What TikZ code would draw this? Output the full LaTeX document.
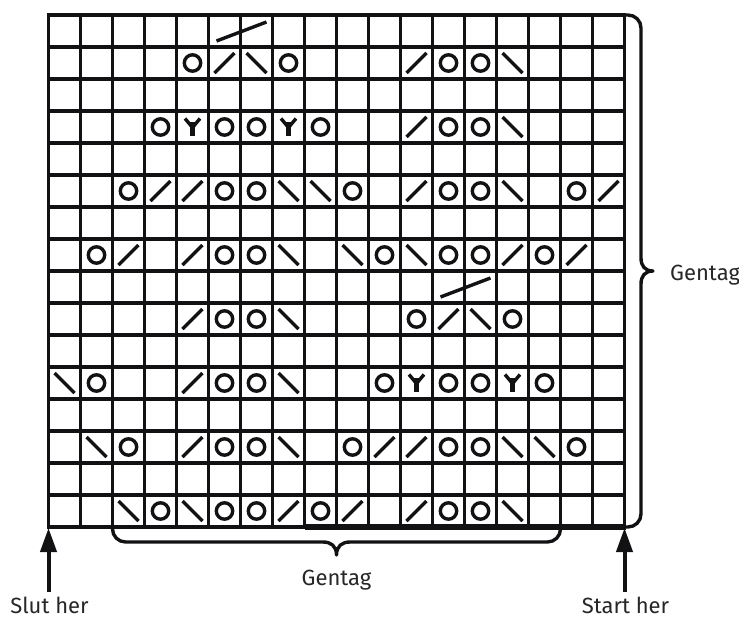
\documentclass[tikz,border=0pt]{standalone}
\usepackage{fontspec}
\setmainfont{Fira Sans}
\usetikzlibrary{arrows.meta}
\definecolor{ink}{RGB}{18,18,20}
\definecolor{txt}{RGB}{40,38,40}
\tikzset{
  gridline/.style={line width=3.2pt, draw=ink},
  sym/.style={line width=3.4pt, draw=ink},
  bracestyle/.style={line width=3.4pt, draw=ink, line join=round},
  arrowstyle/.style={line width=4pt, draw=ink, -{Triangle[length=24pt,width=16pt]}},
  lbl/.style={inner sep=0pt, text=txt, font=\fontsize{22}{26}\selectfont},
  yo/.pic={\draw[sym] (0,0) circle (8.2);},
  rslant/.pic={\draw[sym] (-10,10) -- (10,-10);},
  lslant/.pic={\draw[sym] (-10,-10) -- (10,10);},
  psi/.pic={\draw[sym, line join=round] (-7.5,-8.5) -- (0,0.5) -- (7.5,-8.5);
            \draw[line width=4.4pt, draw=ink] (0,-5) -- (0,9);}
}
\begin{document}
\begin{tikzpicture}[x=1pt,y=-1pt]
\useasboundingbox (0,0) rectangle (739,619);
\fill[white] (0,0) rectangle (739,619);
% grid lines
\foreach \c in {1,...,17} \draw[gridline] ({48.5+32*\c},15) -- ({48.5+32*\c},527);
\foreach \r in {1,...,15} \draw[gridline] (48.5,{15+32*\r}) -- (624.5,{15+32*\r});
\draw[gridline] (48.5,15) rectangle (624.5,527);
\draw[line width=6pt, draw=ink] (304.5,526.5) -- (625.5,526.5);
% symbols
\foreach \c/\r in {5/2,8/2,13/2,14/2, 4/4,6/4,7/4,9/4,13/4,14/4,
  3/6,6/6,7/6,10/6,13/6,14/6,17/6, 2/8,6/8,7/8,11/8,13/8,14/8,16/8,
  6/10,7/10,12/10,15/10, 2/12,6/12,7/12,11/12,13/12,14/12,16/12,
  3/14,6/14,7/14,10/14,13/14,14/14,17/14, 4/16,6/16,7/16,9/16,13/16,14/16}
  \pic at ({32*\c+32.5},{32*\r-1}) {yo};
\foreach \c/\r in {6/2,12/2, 12/4, 4/6,5/6,12/6,18/6, 3/8,5/8,15/8,17/8,
  5/10,13/10, 5/12, 5/14,11/14,12/14, 8/16,10/16,12/16}
  \pic at ({32*\c+32.5},{32*\r-1}) {rslant};
\foreach \c/\r in {7/2,15/2, 15/4, 8/6,9/6,15/6, 8/8,10/8,12/8, 8/10,14/10,
  1/12,8/12, 2/14,8/14,15/14,16/14, 3/16,5/16,15/16}
  \pic at ({32*\c+32.5},{32*\r-1}) {lslant};
\foreach \c/\r in {5/4,8/4,12/12,15/12}
  \pic at ({32*\c+32.5},{32*\r-1}) {psi};
% cable lines
\draw[sym] (216.5,41) -- (266.5,22);
\draw[sym] (440.5,297) -- (490.5,278);
% right brace
\draw[bracestyle] (624.5,15) -- (628,15) .. controls (635.2,15) and (641,20.8) .. (641,28)
  -- (641,258) .. controls (641,266) and (645,271) .. (653,271)
  .. controls (645,271) and (641,276) .. (641,284)
  -- (641,514) .. controls (641,521.2) and (635.2,527) .. (628,527) -- (624.5,527);
% bottom brace
\draw[bracestyle] (112.5,527) -- (112.5,529) .. controls (112.5,536.2) and (118.3,542) .. (125.5,542)
  -- (323,542) .. controls (331,542) and (336.5,546) .. (336.5,555)
  .. controls (336.5,546) and (342,542) .. (350,542)
  -- (547.5,542) .. controls (554.7,542) and (560.5,536.2) .. (560.5,529) -- (560.5,527);
% labels
\node[lbl, anchor=base west] (gright) at (670,280) {Gentag};
\node[lbl, anchor=base] (gbot) at (336.5,585) {Gentag};
\node[lbl, anchor=base] (slut) at (49.5,613) {Slut her};
\node[lbl, anchor=base] (start) at (625.5,613) {Start her};
% arrows
\coordinate (slutfoot) at (48.5,592);
\coordinate (slutcorner) at (48.5,528);
\coordinate (startfoot) at (624.5,592);
\coordinate (startcorner) at (624.5,528);
\draw[arrowstyle] (slutfoot) -- (slutcorner);
\draw[arrowstyle] (startfoot) -- (startcorner);
\end{tikzpicture}
\end{document}
